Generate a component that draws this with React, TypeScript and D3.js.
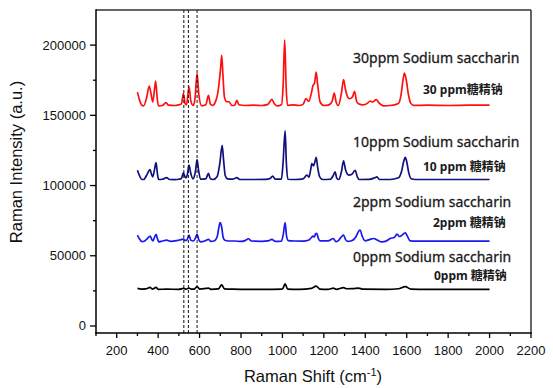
import React from "react";
import * as d3 from "d3";

const W = 553;
const H = 388;

const xTicksMajor = [200, 400, 600, 800, 1000, 1200, 1400, 1600, 1800, 2000, 2200];
const xTicksMinor = [100, 300, 500, 700, 900, 1100, 1300, 1500, 1700, 1900, 2100];
const yTicksMajor = [0, 50000, 100000, 150000, 200000];
const yTicksMinor = [25000, 75000, 125000, 175000];
const dashedLines = [524, 546, 588];

type P = [number, number];

const red30: P[] = [
  [300, 166500], [310, 161000], [320, 157500], [330, 156800], [345, 163000], [357, 170900], [366, 165000], [374, 159500],
  [382, 168000], [388, 174400], [395, 163000], [401, 156800], [420, 157000], [438, 159000], [450, 157200], [480, 157000],
  [500, 157500], [512, 158000], [522, 165400], [530, 158500], [537, 157500], [549, 170200], [558, 160000], [570, 157000],
  [578, 162000], [588, 179700], [597, 164000], [610, 156800], [630, 157500], [643, 164200], [652, 158000], [662, 157000],
  [680, 161000], [692, 170000], [701, 183000], [707, 192700], [713, 178000], [720, 163000], [730, 159800], [744, 159500],
  [755, 157000], [770, 157200], [780, 160700], [790, 157500], [820, 157000], [860, 157200], [900, 157000], [930, 157800],
  [949, 161400], [960, 158500], [975, 156700], [995, 157500], [1003, 170000], [1011, 203800], [1018, 170000], [1025, 157000],
  [1050, 157500], [1080, 157000], [1100, 158000], [1114, 161900], [1127, 160000], [1140, 166000], [1147, 171000], [1155, 173000],
  [1163, 180800], [1170, 172000], [1182, 159500], [1200, 157000], [1220, 157200], [1240, 160000], [1250, 165900], [1260, 159000],
  [1270, 157000], [1285, 166000], [1295, 175400], [1305, 168000], [1315, 163000], [1324, 161800], [1338, 163000], [1348, 167100],
  [1358, 160000], [1367, 158300], [1390, 157500], [1410, 158500], [1424, 160200], [1435, 159500], [1453, 161200], [1465, 159000],
  [1488, 156800], [1520, 157000], [1560, 158500], [1572, 164000], [1582, 175000], [1589, 180100], [1598, 175000], [1608, 165000],
  [1620, 158500], [1633, 157100], [1700, 157200], [1800, 157000], [1900, 157200], [2000, 157200],
];

const navy10: P[] = [
  [300, 110900], [310, 107000], [320, 104500], [330, 104300], [345, 107500], [361, 111400], [368, 108000], [374, 106200],
  [382, 111000], [390, 116400], [396, 109000], [402, 104300], [420, 104500], [441, 105700], [455, 104300], [480, 104200],
  [500, 104500], [512, 105000], [522, 109000], [530, 106000], [535, 105500], [542, 108500], [549, 114500], [557, 109000],
  [568, 104800], [580, 110000], [588, 118500], [595, 111000], [605, 104500], [630, 104800], [643, 108600], [652, 104800],
  [665, 104300], [685, 106500], [698, 116000], [709, 128700], [716, 118000], [724, 107000], [735, 104800], [760, 104500],
  [780, 105700], [795, 104300], [850, 104300], [920, 104400], [940, 105000], [953, 106700], [965, 104500], [995, 104500],
  [1003, 116000], [1013, 138900], [1019, 116000], [1026, 104500], [1060, 104300], [1100, 104800], [1118, 107400], [1128, 106000],
  [1136, 111000], [1142, 115700], [1150, 114000], [1157, 117000], [1163, 120000], [1170, 113000], [1180, 106200], [1195, 104300],
  [1230, 104500], [1245, 107000], [1254, 109700], [1263, 105000], [1272, 104300], [1285, 110000], [1295, 117500], [1305, 111000],
  [1320, 107400], [1335, 108000], [1351, 110900], [1362, 106000], [1372, 104300], [1420, 104400], [1445, 105500], [1456, 106200],
  [1468, 104300], [1520, 104300], [1560, 105500], [1575, 110000], [1586, 117500], [1593, 120000], [1600, 117000], [1610, 109000],
  [1622, 104800], [1640, 104300], [1800, 104300], [2000, 104300],
];

const blue2: P[] = [
  [300, 64700], [310, 62000], [322, 60000], [335, 60500], [348, 62200], [361, 64000], [368, 62000], [375, 60600],
  [382, 63000], [390, 65200], [397, 62000], [403, 59900], [420, 60500], [441, 61100], [460, 60300], [490, 60800],
  [510, 61500], [522, 61900], [530, 61000], [538, 61000], [549, 64700], [558, 61000], [570, 60500], [580, 62500],
  [588, 65400], [596, 61500], [606, 59900], [625, 60500], [643, 61600], [655, 60200], [670, 60500], [685, 63500],
  [693, 70000], [699, 73700], [706, 71000], [714, 63000], [722, 61000], [740, 60500], [770, 60500], [800, 60200],
  [820, 60800], [836, 62100], [850, 60500], [900, 60300], [930, 60600], [949, 61600], [965, 60200], [995, 60400],
  [1005, 66000], [1013, 73700], [1020, 64000], [1028, 60800], [1060, 60500], [1100, 60400], [1125, 61000], [1140, 63000],
  [1147, 64000], [1154, 63500], [1160, 65500], [1166, 65900], [1173, 62500], [1182, 60600], [1220, 60600], [1246, 62300],
  [1258, 60000], [1270, 60800], [1285, 63500], [1295, 64700], [1305, 61500], [1315, 60300], [1330, 60500], [1355, 63500],
  [1368, 67500], [1375, 68300], [1385, 64000], [1399, 60600], [1420, 61500], [1440, 62300], [1460, 61000], [1480, 59900],
  [1500, 60400], [1520, 62300], [1540, 63000], [1553, 65400], [1565, 63700], [1575, 64500], [1593, 66300], [1603, 64000],
  [1617, 60600], [1650, 60400], [1800, 60400], [2000, 60400],
];

const black0: P[] = [
  [300, 26800], [320, 26300], [340, 26400], [361, 27500], [372, 26300], [390, 27500], [400, 26100], [440, 26200],
  [500, 26100], [522, 26800], [535, 26200], [549, 27000], [560, 26200], [575, 26300], [588, 28000], [600, 26300],
  [643, 26900], [655, 26100], [690, 26400], [707, 29200], [720, 26400], [760, 26200], [800, 26100], [900, 26100],
  [1000, 26300], [1013, 30000], [1025, 26300], [1080, 26100], [1140, 26800], [1163, 28400], [1180, 26300], [1220, 26100],
  [1246, 26900], [1260, 26100], [1295, 27300], [1310, 26500], [1340, 26600], [1367, 27000], [1390, 26200], [1500, 26100],
  [1560, 26500], [1593, 28000], [1620, 26300], [1700, 26100], [1800, 26100], [2000, 26100],
];

const seriesColors = ["#ff1010", "#10107e", "#1a1aee", "#000000"];
const seriesData = [red30, navy10, blue2, black0];

const enLabels = ["30ppm Sodium saccharin", "10ppm Sodium saccharin", "2ppm Sodium saccharin", "0ppm Sodium saccharin"];
const cnLabels = ["30 ppm糖精钠", "10 ppm 糖精钠", "2ppm 糖精钠", "0ppm 糖精钠"];
const enPos: P[] = [[353, 63], [353, 147], [353, 207], [353, 262]];
const cnPos: P[] = [[423, 94], [423, 171], [433, 227], [434, 280]];

export default function App() {
  const L = 96, R = 531, T = 10, B = 333;
  const x = d3.scaleLinear().domain([100, 2200]).range([L, R]);
  const y = d3.scaleLinear().domain([-5000, 225000]).range([B, T]);
  const line = d3
    .line<P>()
    .x((d) => x(d[0]))
    .y((d) => y(d[1]))
    .curve(d3.curveMonotoneX);

  const tickFont = "'Liberation Sans', Arial, sans-serif";
  const annFont = "'Noto Sans', 'Noto Sans CJK SC', sans-serif";

  return (
    <div style={{ position: "fixed", left: 0, top: 0, width: W, height: H, background: "#fff" }}>
      <svg width={W} height={H} viewBox={`0 0 ${W} ${H}`} style={{ display: "block" }}>
        <rect x={0} y={0} width={W} height={H} fill="#fff" />
        {seriesData.map((d, i) => (
          <path key={i} d={line(d) || ""} fill="none" stroke={seriesColors[i]} strokeWidth={1.7} strokeLinejoin="round" />
        ))}
        {dashedLines.map((v, i) => (
          <line key={i} x1={x(v)} x2={x(v)} y1={T} y2={B} stroke="#111" strokeWidth={1} strokeDasharray="3,2" />
        ))}
        {/* frame */}
        <line x1={L} x2={R} y1={T} y2={T} stroke="#333" strokeWidth={1.5} />
        <line x1={R} x2={R} y1={T} y2={B} stroke="#333" strokeWidth={1.5} />
        <line x1={L} x2={L} y1={T - 0.75} y2={B + 0.75} stroke="#000" strokeWidth={1.5} />
        <line x1={L - 0.75} x2={R + 0.75} y1={B} y2={B} stroke="#000" strokeWidth={1.5} />
        {/* x ticks */}
        {xTicksMajor.map((v) => (
          <g key={"xm" + v}>
            <line x1={x(v)} x2={x(v)} y1={B} y2={B + 5} stroke="#000" strokeWidth={1.3} />
            <text x={x(v)} y={355} textAnchor="middle" fontFamily={tickFont} fontSize={13} fill="#111">
              {v}
            </text>
          </g>
        ))}
        {xTicksMinor.map((v) => (
          <line key={"xn" + v} x1={x(v)} x2={x(v)} y1={B} y2={B + 3} stroke="#000" strokeWidth={1.3} />
        ))}
        {/* y ticks */}
        {yTicksMajor.map((v) => (
          <g key={"ym" + v}>
            <line x1={L - 6} x2={L} y1={y(v)} y2={y(v)} stroke="#000" strokeWidth={1.3} />
            <text x={86} y={y(v) + 4.5} textAnchor="end" fontFamily={tickFont} fontSize={13} fill="#111">
              {v}
            </text>
          </g>
        ))}
        {yTicksMinor.map((v) => (
          <line key={"yn" + v} x1={L - 3} x2={L} y1={y(v)} y2={y(v)} stroke="#000" strokeWidth={1.3} />
        ))}
        {/* axis titles */}
        <text
          transform={`translate(22, 162) rotate(-90)`}
          textAnchor="middle"
          fontFamily={tickFont}
          fontSize={16.5}
          fill="#111"
        >
          Raman Intensity (a.u.)
        </text>
        <text x={313} y={382} textAnchor="middle" fontFamily={tickFont} fontSize={16.5} fill="#111">
          Raman Shift (cm<tspan dy={-6} fontSize={11}>-1</tspan>
          <tspan dy={6}>)</tspan>
        </text>
        {/* annotations */}
        {enLabels.map((t, i) => (
          <text
            key={"en" + i}
            x={enPos[i][0]}
            y={enPos[i][1]}
            fontFamily={annFont}
            fontSize={14}
            fill="#1a1a1a"
            stroke="#1a1a1a"
            strokeWidth={0.3}
          >
            {t}
          </text>
        ))}
        {cnLabels.map((t, i) => (
          <text
            key={"cn" + i}
            x={cnPos[i][0]}
            y={cnPos[i][1]}
            fontFamily={annFont}
            fontSize={12}
            fontWeight="bold"
            fill="#1a1a1a"
          >
            {t}
          </text>
        ))}
      </svg>
    </div>
  );
}
